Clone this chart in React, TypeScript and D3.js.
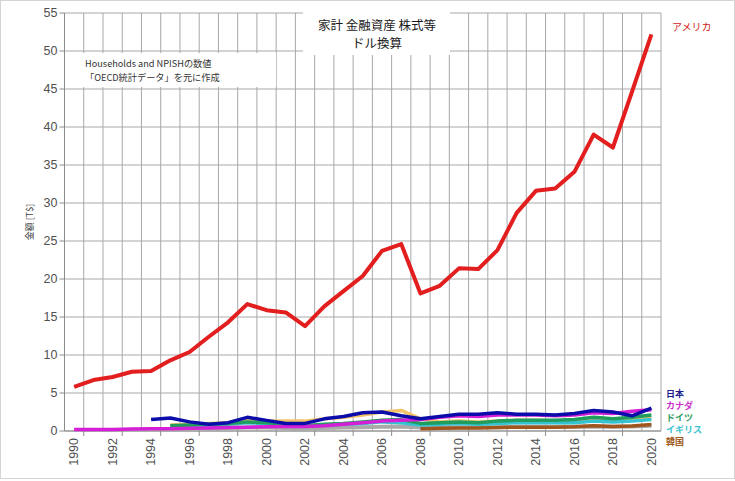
import React from "react";
import * as d3 from "d3";

// 年 (1990-2020)
const years = d3.range(1990, 2021);

// 金額 [T$] 各国の家計 株式等
const usa = [5.8, 6.7, 7.1, 7.8, 7.9, 9.3, 10.4, 12.4, 14.3, 16.7, 15.9, 15.6, 13.8, 16.4, 18.4, 20.4, 23.7, 24.6, 18.1, 19.1, 21.4, 21.3, 23.8, 28.7, 31.6, 31.9, 34.1, 39.0, 37.3, 44.7, 52.2];
const japan = [null, null, null, null, 1.5, 1.7, 1.2, 0.9, 1.1, 1.8, 1.4, 1.0, 1.0, 1.6, 1.9, 2.4, 2.5, 2.0, 1.6, 1.9, 2.2, 2.2, 2.4, 2.2, 2.2, 2.1, 2.3, 2.7, 2.5, 2.0, 3.0];
const canada = [0.2, 0.2, 0.2, 0.25, 0.3, 0.3, 0.35, 0.4, 0.45, 0.5, 0.55, 0.6, 0.6, 0.7, 0.9, 1.1, 1.3, 1.4, 1.5, 1.8, 2.0, 1.9, 2.1, 2.1, 2.1, 2.0, 2.1, 2.4, 2.3, 2.6, 2.8];
const germany = [null, null, null, null, null, 0.7, 0.8, 0.9, 1.0, 1.2, 1.1, 0.9, 0.7, 0.9, 1.0, 1.2, 1.4, 1.5, 1.0, 1.1, 1.2, 1.1, 1.3, 1.4, 1.4, 1.4, 1.5, 1.8, 1.6, 1.8, 2.1];
const uk = [null, null, null, null, null, 0.6, 0.7, 0.8, 0.9, 1.1, 1.0, 0.8, 0.6, 0.8, 0.9, 1.0, 1.2, 1.1, 0.8, 0.9, 1.0, 0.9, 1.0, 1.1, 1.1, 1.1, 1.1, 1.3, 1.2, 1.3, 1.5];
const korea = [null, null, null, null, null, null, null, null, null, null, null, null, null, null, null, null, null, null, 0.3, 0.35, 0.4, 0.4, 0.45, 0.5, 0.5, 0.5, 0.55, 0.7, 0.6, 0.65, 0.85];
const other1 = [null, null, null, null, null, 0.8, 0.9, 1.0, 1.1, 1.4, 1.3, 1.3, 1.3, 1.6, 1.8, 2.1, 2.5, 2.7, 1.6, 1.2, 1.3, 1.2, 1.3, 1.4, 1.4, 1.3, 1.3, 1.5, 1.4, 1.5, 1.7];
const other2 = [null, null, null, null, null, 0.3, 0.3, 0.35, 0.4, 0.45, 0.45, 0.4, 0.35, 0.4, 0.45, 0.5, 0.55, 0.6, 0.45, 0.5, 0.5, 0.5, 0.5, 0.55, 0.55, 0.55, 0.55, 0.6, 0.55, 0.6, 0.7];

const yTicks = d3.range(0, 56, 5);
const labelYears = years.filter(y => y % 2 === 0);

const series = [
    {name: "", values: other2, color: "#a9a9a9", width: 4},
    {name: "", values: other1, color: "#f2c46a", width: 3.5},
    {name: "韓国", values: korea, color: "#a0561c", width: 3.5},
    {name: "イギリス", values: uk, color: "#35c3d2", width: 3.5},
    {name: "ドイツ", values: germany, color: "#1f9c5e", width: 3.5},
    {name: "カナダ", values: canada, color: "#d41fd6", width: 3.5},
    {name: "日本", values: japan, color: "#0c0caa", width: 3.5},
    {name: "アメリカ", values: usa, color: "#e21e1e", width: 4},
];

const legend = [
    {name: "日本", color: "#1c1c8e", y: 397},
    {name: "カナダ", color: "#cc2ecc", y: 409},
    {name: "ドイツ", color: "#2e9e5e", y: 421},
    {name: "イギリス", color: "#3cbfd0", y: 433},
    {name: "韓国", color: "#a05a20", y: 445},
];

export default function App() {
    const W = 735, H = 481;
    const left = 64.5, right = 661, top = 13, bottom = 431;

    const x = d3.scaleBand<number>().domain(years).range([left, right]);
    const y = d3.scaleLinear().domain([0, 55]).range([bottom, top]);
    const cx = (yr: number) => (x(yr) as number) + x.bandwidth() / 2;

    const line = d3.line<number | null>()
        .defined(d => d !== null)
        .x((d, i) => cx(years[i]))
        .y(d => y(d as number));

    const jp = "'Noto Sans CJK JP', sans-serif";
    const num = "'Liberation Sans', Arial, sans-serif";

    return (
        <svg width={W} height={H} style={{position: "absolute", left: 0, top: 0, background: "white"}}>
            <rect x={0.5} y={0.5} width={W - 1} height={H - 3} fill="white" stroke="#d4d4d4" />

            {/* grid */}
            {yTicks.map(t => (
                <line key={"h" + t} x1={left} x2={right} y1={y(t)} y2={y(t)} stroke="#a8a8a8" strokeWidth={1} />
            ))}
            {years.map(yr => (
                <line key={"v" + yr} x1={x(yr)} x2={x(yr)} y1={top} y2={bottom} stroke="#a8a8a8" strokeWidth={1} />
            ))}
            <line x1={right} x2={right} y1={top} y2={bottom} stroke="#a8a8a8" />
            <line x1={left} x2={left} y1={top} y2={bottom} stroke="#8c8c8c" />
            <line x1={left} x2={right} y1={bottom} y2={bottom} stroke="#8c8c8c" />

            {/* y axis */}
            {yTicks.map(t => (
                <g key={"yt" + t}>
                    <line x1={left - 5} x2={left} y1={y(t)} y2={y(t)} stroke="#8c8c8c" />
                    <text x={left - 7} y={y(t)} dy="0.35em" textAnchor="end" fontFamily={num} fontSize={12.5} fill="#505050">{t}</text>
                </g>
            ))}
            <text transform={`translate(30, ${y(27.5)}) rotate(-90)`} textAnchor="middle" dy="0.35em" fontFamily={jp} fontSize={9} fill="#404040">金額 [T$]</text>

            {/* x axis */}
            {labelYears.map(yr => (
                <g key={"xt" + yr}>
                    {yr < 2020 && <line x1={(x(yr) as number) + x.bandwidth()} x2={(x(yr) as number) + x.bandwidth()} y1={bottom} y2={bottom + 5} stroke="#8c8c8c" />}
                    <text transform={`translate(${cx(yr)}, ${bottom + 7}) rotate(-90)`} textAnchor="end" dy="0.35em" fontFamily={num} fontSize={12.5} fill="#505050">{yr}</text>
                </g>
            ))}

            {/* title & note boxes */}
            <rect x={303} y={4} width={147} height={51} fill="white" />
            <text x={377} y={30} textAnchor="middle" fontFamily={jp} fontSize={12.5} fill="#1a1a1a">家計 金融資産 株式等</text>
            <text x={377} y={48} textAnchor="middle" fontFamily={jp} fontSize={12.5} fill="#1a1a1a">ドル換算</text>

            <rect x={66} y={53} width={210} height={34} fill="white" />
            <text x={85} y={67} fontFamily={jp} fontSize={9.2} fill="#333">Households and NPISHの数値</text>
            <text x={85} y={80.5} fontFamily={jp} fontSize={9.2} fill="#333">「OECD統計データ」を元に作成</text>

            {/* lines */}
            {series.map((s, i) => (
                <path key={"s" + i} d={line(s.values) || ""} fill="none" stroke={s.color} strokeWidth={s.width} strokeLinejoin="round" />
            ))}

            {/* labels */}
            <text x={672} y={31} fontFamily={jp} fontSize={10} fill="#d22020">アメリカ</text>
            {legend.map(l => (
                <text key={l.name} x={666} y={l.y} fontFamily={jp} fontSize={9} fontWeight="bold" fill={l.color}>{l.name}</text>
            ))}
        </svg>
    );
}
